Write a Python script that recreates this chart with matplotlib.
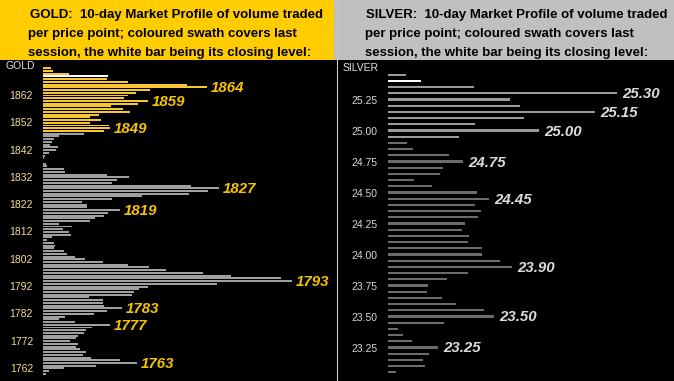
import numpy as np
import matplotlib.pyplot as plt
import matplotlib.transforms as mtransforms
from matplotlib.patches import Rectangle
from matplotlib.lines import Line2D

W, H = 674, 381  # output size in pixels

# ---- GOLD: volume per $1 price point, from 1871 down to 1759 ----
gold_prices = np.arange(1871, 1758, -1)
gold_volume = [8, 10, 26, 65, 64, 85, 144, 164, 107, 93,
               85, 81, 105, 95, 68, 80, 87, 56, 47, 58,
               47, 66, 67, 61, 41, 16, 11, 9, 7, 15,
               13, 6, 2, 1.5, 0, 3, 4, 21, 22, 64,
               86, 74, 69, 148, 176, 165, 146, 99, 69, 39,
               44, 44, 77, 65, 61, 52, 47, 16, 29, 20,
               26, 28, 9, 4, 11, 12, 11, 21, 24, 32,
               42, 60, 85, 106, 123, 160, 188, 238, 249, 174,
               105, 96, 91, 89, 46, 60, 60, 61, 79, 64,
               51, 22, 16, 32, 67, 49, 43, 41, 35, 33,
               27, 35, 33, 37, 43, 40, 48, 77, 94, 53,
               21, 6, 3]
gold_session_low = 1848
gold_close = 1868
gold_labels = [1864, 1859, 1849, 1827, 1819, 1793, 1783, 1777, 1763]
gold_ticks = [1762, 1772, 1782, 1792, 1802, 1812, 1822, 1832, 1842, 1852, 1862]

# ---- SILVER: volume per 5 cents, from 25.45 down to 23.05 ----
silver_prices = np.arange(2545, 2304, -5) / 100
silver_volume = [18, 33, 86, 229, 122, 132, 207, 136, 87, 151,
                 71, 19, 25, 61, 75, 55, 52, 26, 44, 89,
                 101, 87, 93, 90, 77, 74, 81, 80, 94, 94,
                 112, 124, 80, 59, 40, 39, 54, 68, 96, 106,
                 56, 10, 15, 24, 50, 41, 35, 37, 8]
silver_session_low = 24.95
silver_close = 25.40
silver_labels = [25.30, 25.15, 25.00, 24.75, 24.45, 23.90, 23.50, 23.25]
silver_ticks = [23.25, 23.50, 23.75, 24.00, 24.25, 24.50, 24.75, 25.00, 25.25]

header_lines = ["10-day Market Profile of volume traded",
                "per price point; coloured swath covers last",
                "session, the white bar being its closing level:"]

plt.rcParams['font.family'] = ['Liberation Sans', 'DejaVu Sans']

fig = plt.figure(figsize=(W / 100, H / 100), dpi=100, facecolor='black')


def fx(px):
    return px / W


def fy(py):
    return 1 - py / H


# header boxes
fig.patches.append(Rectangle((0, fy(60)), fx(334), 60 / H, transform=fig.transFigure,
                             facecolor='#ffcc00', edgecolor='none'))
fig.patches.append(Rectangle((fx(334), fy(60)), fx(W - 334), 60 / H, transform=fig.transFigure,
                             facecolor='#c0c0c0', edgecolor='none'))

for x0, name in [(28, 'GOLD'), (365, 'SILVER')]:
    baselines = [18.3, 37, 55.7]
    first = name + ":  " + header_lines[0]
    for i, line in enumerate([first] + header_lines[1:]):
        fig.text(fx(x0 + (1.5 if i == 0 else 0)), fy(baselines[i]), line, fontsize=9.5,
                 fontweight='bold', color='black', va='baseline', ha='left')

# separator between panels
fig.add_artist(Line2D([fx(336.5)] * 2, [0, 1], transform=fig.transFigure,
                      color='#c8c8c8', lw=0.8))

# ---- gold panel ----
ax_g = fig.add_axes([fx(42.7), 0, fx(335 - 42.7), (H - 60) / H])
ax_g.set_facecolor('black')
g_colors = []
for p in gold_prices:
    if p == gold_close:
        g_colors.append('white')
    elif p >= gold_session_low:
        g_colors.append('#f8c633')
    else:
        g_colors.append('#a0a0a0')
ax_g.barh(gold_prices, gold_volume, height=0.72, color=g_colors, linewidth=0,
          antialiased=False)
ax_g.set_ylim(1756.4, 1874)
ax_g.set_xlim(0, 292.3)
ax_g.set_xticks([])
ax_g.set_yticks(gold_ticks)
ax_g.tick_params(axis='y', length=0, pad=7, labelsize=7.5, labelcolor='#f3df8a')
offset = mtransforms.ScaledTranslation(0, -2.2 / 100, fig.dpi_scale_trans)
for lab in ax_g.get_yticklabels():
    lab.set_transform(lab.get_transform() + offset)
g_lookup = dict(zip(gold_prices, gold_volume))
for p in gold_labels:
    ax_g.annotate(str(p), xy=(g_lookup[p], p), xytext=(3, -0.7), textcoords='offset points',
                  fontsize=10.8, fontweight='bold', fontstyle='italic', color='#f5c400',
                  va='center', ha='left')
fig.text(fx(5), fy(66), 'GOLD', fontsize=7.5, color='#e0e0e0', va='center', ha='left')

# ---- silver panel ----
ax_s = fig.add_axes([fx(388), 0, fx(W - 388), (H - 60) / H])
ax_s.set_facecolor('black')
s_colors = []
for p in silver_prices:
    if abs(p - silver_close) < 1e-6:
        s_colors.append('white')
    elif p >= silver_session_low - 1e-6:
        s_colors.append('#9a9a9a')
    else:
        s_colors.append('#6c6c6c')
ax_s.barh(silver_prices, silver_volume, height=0.017, color=s_colors, linewidth=0,
          antialiased=False)
ax_s.set_ylim(22.980, 25.569)
ax_s.set_xlim(0, W - 388)
ax_s.set_xticks([])
ax_s.set_yticks(silver_ticks)
ax_s.set_yticklabels([f'{t:.2f}' for t in silver_ticks])
ax_s.tick_params(axis='y', length=0, pad=7.4, labelsize=7.5, labelcolor='#d8d8d8')
s_lookup = {round(p, 2): v for p, v in zip(silver_prices, silver_volume)}
for p in silver_labels:
    ax_s.annotate(f'{p:.2f}', xy=(s_lookup[round(p, 2)], p), xytext=(3.5, -0.7),
                  textcoords='offset points', fontsize=10.8, fontweight='bold',
                  fontstyle='italic', color='#dcdcdc', va='center', ha='left')
fig.text(fx(342.7), fy(68), 'SILVER', fontsize=7.5, color='#e0e0e0', va='center', ha='left')

for ax in (ax_g, ax_s):
    for s in ax.spines.values():
        s.set_visible(False)

fig.savefig('out.png', dpi=100, facecolor='black')
